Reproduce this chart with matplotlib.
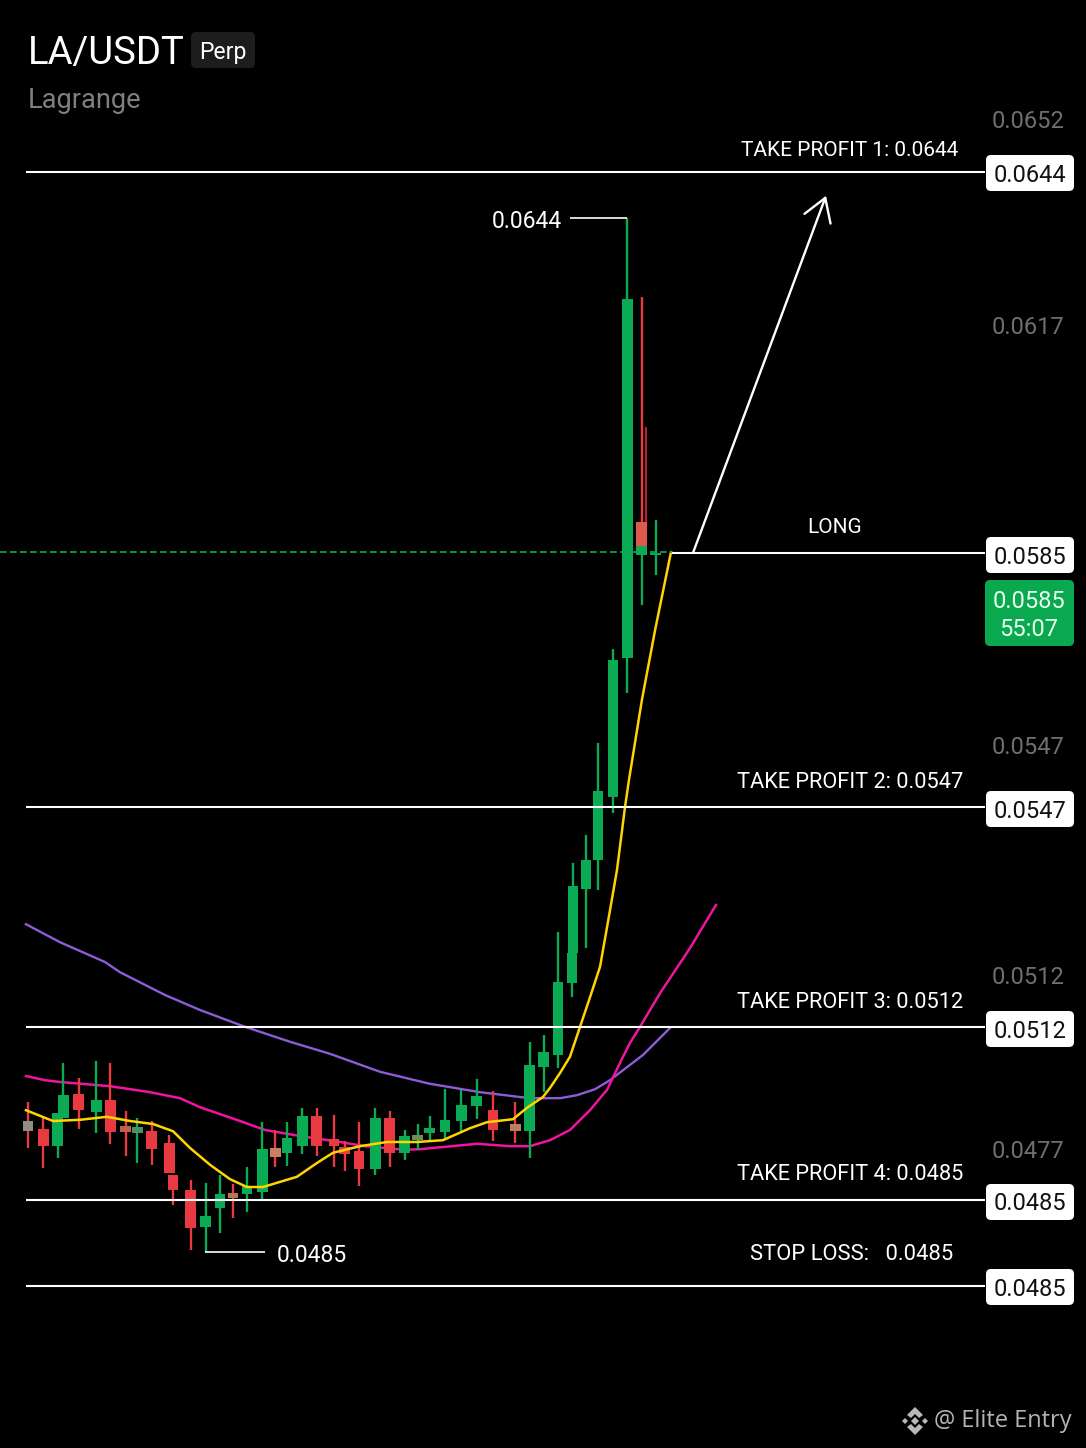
import numpy as np
import matplotlib
matplotlib.use('Agg')
import matplotlib.pyplot as plt
from matplotlib.patches import FancyBboxPatch, Polygon
from matplotlib.transforms import IdentityTransform

W, H = 1086, 1448
plt.rcParams['font.family'] = ['Roboto', 'DejaVu Sans']

# candle values, in 0.00001 of a price unit
bar_x = [0, 1.03, 2.05, 2.40, 3.49, 4.66, 5.62, 6.71, 7.47, 8.49, 9.66, 9.93, 11.16, 12.19, 13.15, 14.04,
         15.0, 16.03, 16.92, 17.74, 18.77, 19.79, 20.96, 21.71, 22.67, 23.77, 24.79, 25.82, 26.71, 27.53,
         28.56, 29.66, 30.75, 31.85, 33.36, 34.38, 35.34, 36.30, 37.26, 37.33, 38.22, 39.04, 40.07, 41.03,
         42.05, 42.05, 43.01]
opens = [4850, 4837, 4808, 4855, 4895, 4865, 4885, 4842, 4830, 4833, 4813, 4760, 4735, 4673, 4705, 4730,
         4728, 4732, 4805, 4797, 4808, 4858, 4820, 4807, 4800, 4770, 4855, 4797, 4818, 4830,
         4832, 4850, 4875, 4868, 4845, 4833, 4940, 4960, 5080, 5130, 5237, 5285, 5390, 5622,
         5848, 5793, 5793]
closes = [4833, 4808, 4863, 4893, 4868, 4885, 4832, 4832, 4840, 4803, 4763, 4735, 4672, 4692, 4728, 4722,
          4742, 4803, 4790, 4822, 4858, 4808, 4808, 4795, 4770, 4855, 4797, 4825, 4827, 4838,
          4852, 4877, 4892, 4835, 4833, 4943, 4965, 5082, 5130, 5242, 5285, 5400, 5618, 6220,
          5808, 5808, 5797]
highs = [4882, 4855, 4863, 4947, 4922, 4950, 4947, 4867, 4855, 4850, 4827, 4760, 4752, 4747, 4760, 4745,
         4773, 4848, 4835, 4848, 4872, 4872, 4860, 4817, 4848, 4872, 4867, 4835, 4845, 4858,
         4903, 4902, 4920, 4900, 4882, 4982, 4993, 5165, 5130, 5280, 5327, 5480, 5637, 6355,
         6223, 5808, 5852]
lows = [4805, 4772, 4788, 4855, 4837, 4830, 4812, 4792, 4780, 4777, 4763, 4710, 4635, 4632, 4663, 4688,
        4698, 4718, 4773, 4775, 4795, 4792, 4773, 4767, 4742, 4760, 4773, 4785, 4802, 4818,
        4822, 4833, 4853, 4817, 4813, 4788, 4898, 4938, 5057, 5130, 5138, 5235, 5363, 5563,
        5808, 5710, 5760]
# candles whose colour came out washed in the screenshot
faded = {0: '#8f8f86', 7: '#c0604f', 8: '#4d8f66', 15: '#b7764e', 18: '#c87f62', 28: '#6f8c5c', 34: '#b97f5f',
         44: '#dd5a4c'}
ghost_x, ghost_high, ghost_low = 42.33, 6007, 5848

purple_x = [-0.14, 2.19, 5.27, 6.30, 9.38, 11.78, 14.86, 17.95, 20.68, 24.11, 27.53, 30.96, 34.38, 36.44, 37.60,
            38.84, 39.86, 42.12, 43.97]
purple_y = [5178, 5148, 5115, 5098, 5060, 5035, 5007, 4982, 4962, 4932, 4912, 4898, 4888, 4888, 4893,
            4903, 4918, 4960, 5005]
pink_x = [-0.14, 1.16, 2.19, 5.62, 8.36, 10.41, 11.78, 14.52, 16.23, 18.63, 21.37, 23.08, 25.82, 26.85, 30.75,
          33.01, 34.38, 35.75, 37.12, 38.49, 39.66, 40.75, 41.23, 41.92, 43.29, 45.34, 47.12]
pink_y = [4925, 4918, 4915, 4908, 4898, 4888, 4873, 4850, 4835, 4825, 4815, 4808, 4802, 4803, 4812,
          4808, 4808, 4818, 4835, 4868, 4902, 4957, 4980, 5007, 5063, 5138, 5210]
yellow_x = [-0.14, 1.71, 3.56, 5.41, 6.99, 8.56, 9.93, 11.10, 12.47, 13.84, 15.0, 16.10, 18.42, 19.79, 20.89,
            22.74, 24.59, 26.64, 28.42, 30.27, 31.44, 33.22, 34.18, 35.27, 35.75, 36.44, 37.12, 37.81, 38.49,
            39.18, 39.66, 40.34, 40.89, 41.16, 42.05, 42.95, 44.04]
yellow_y = [4868, 4850, 4852, 4857, 4850, 4845, 4833, 4805, 4777, 4753, 4740, 4740, 4757, 4780, 4797,
            4808, 4815, 4815, 4818, 4838, 4848, 4853, 4872, 4890, 4905, 4930, 4957, 5007, 5056,
            5107, 5173, 5268, 5373, 5418, 5552, 5668, 5798]

level_y = [6432, 5797, 5373, 5007, 4718, 4575]
level_start = [-0.14, 44.1, -0.14, -0.14, -0.14, -0.14]
level_tags = ['0.0644', '0.0585', '0.0547', '0.0512', '0.0485', '0.0485']
level_titles = ['TAKE PROFIT 1: 0.0644', 'LONG', 'TAKE PROFIT 2: 0.0547', 'TAKE PROFIT 3: 0.0512',
                'TAKE PROFIT 4: 0.0485', 'STOP LOSS:   0.0485']
axis_labels = ['0.0652', '0.0617', '0.0547', '0.0512', '0.0477']
axis_rows = [119, 325, 745, 975, 1149]
tag_rows = [173, 555, 809, 1029, 1202, 1287]
title_rows = [148, 526, 781, 1001, 1173, 1253]
title_cols = [850, 835, 850, 850, 850, 852]
title_sizes = [15, 15, 15.7, 15.7, 15.7, 15.8]

GREEN = '#0bab55'
RED = '#e83a40'

fig = plt.figure(figsize=(W / 100, H / 100), dpi=100, facecolor='black')
ax = fig.add_axes([0, 0, 1, 1], facecolor='black')
ax.set_xlim(-28 / 14.6, (W - 28) / 14.6)
ax.set_ylim(4305e-5, 6718.3e-5)
ax.axis('off')

bar_x = np.array(bar_x)
opens, closes, highs, lows = [np.array(a) * 1e-5 for a in (opens, closes, highs, lows)]
colors = [GREEN if c >= o else RED for o, c in zip(opens, closes)]
body_colors = [faded.get(i, c) for i, c in enumerate(colors)]

ax.plot(purple_x, np.array(purple_y) * 1e-5, color='#8f5bd6', lw=1.7, zorder=2)
ax.plot(pink_x, np.array(pink_y) * 1e-5, color='#f014a0', lw=1.8, zorder=2)

ax.vlines(bar_x, lows, highs, colors=colors, lw=1.7, zorder=3)
ax.vlines(ghost_x, ghost_low * 1e-5, ghost_high * 1e-5, colors='#b5202c', lw=1.5, zorder=3)
ax.bar(bar_x, closes - opens, bottom=opens, width=0.75, color=body_colors, zorder=3)

ax.plot(yellow_x, np.array(yellow_y) * 1e-5, color='#ffd400', lw=1.8, zorder=4)

# dashed current price line
ax.hlines(5798e-5, ax.get_xlim()[0], 44.1, colors='#0bab55', lw=1.2, linestyles=(0, (4, 2)), zorder=4)

ax.hlines(np.array(level_y) * 1e-5, level_start, 65.55, colors='white', lw=1.5, zorder=5)
ax.hlines(6355e-5, 37.12, 41.03, colors='white', lw=1.2, zorder=5)
ax.hlines(4632e-5, 12.12, 16.23, colors='white', lw=1.2, zorder=5)

ax.annotate('', xy=(54.66, 6392e-5), xytext=(45.55, 5797e-5),
            arrowprops=dict(arrowstyle='->,head_length=0.8,head_width=0.5', color='white', lw=1.7,
                            shrinkA=0, shrinkB=0, mutation_scale=20), zorder=6)


def label(col, row, s, size, color='white', ha='center', **kw):
    # va center sits a little high for these fonts
    fig.text(col / W, 1 - (row + 2) / H, s, fontsize=size, color=color, ha=ha, va='center', zorder=10, **kw)


def box(x0, y0, x1, y1, color):
    fig.add_artist(FancyBboxPatch((x0, H - y1), x1 - x0, y1 - y0, boxstyle='round,pad=0,rounding_size=5',
                                  fc=color, ec='none', transform=IdentityTransform(), zorder=9))


label(28, 51, 'LA/USDT', 27.5, ha='left')
box(191, 32, 255, 68, '#1d1d1d')
label(223, 51, 'Perp', 16.5)
label(28, 98, 'Lagrange', 19.6, color='#7f7f7f', ha='left')

for s, r in zip(axis_labels, axis_rows):
    label(1028, r, s, 17, color='#6f6f6f')

for s, r in zip(level_tags, tag_rows):
    box(986, r - 18, 1074, r + 18, 'white')
    label(1030, r, s, 17, color='#111111')

box(985, 580, 1074, 646, '#0aa84f')
label(1029, 599, '0.0585', 17, color='#e6fff0')
label(1029, 628, '55:07', 17, color='#e6fff0')

for s, r, c, sz in zip(level_titles, title_rows, title_cols, title_sizes):
    label(c, r, s, sz)

label(527, 219, '0.0644', 16.5)
label(312, 1253, '0.0485', 16.5)

# watermark logo
logo_col, logo_row = 915, 1421
pieces = [[(0, -14), (8, -6), (4, -3), (0, -7), (-4, -3), (-8, -6)],
          [(0, 14), (8, 6), (4, 3), (0, 7), (-4, 3), (-8, 6)],
          [(0, -4), (4, 0), (0, 4), (-4, 0)],
          [(-10, -3), (-7, 0), (-10, 3), (-13, 0)],
          [(10, -3), (13, 0), (10, 3), (7, 0)]]
for p in pieces:
    pts = [(logo_col + x, H - (logo_row + y)) for x, y in p]
    fig.add_artist(Polygon(pts, closed=True, fc='#b9b9b9', ec='none', transform=IdentityTransform(), zorder=10))
label(1072, 1419, '@ Elite Entry', 17, color='#b4b4b4', ha='right', family=['Open Sans', 'DejaVu Sans'])

fig.savefig('out.png', dpi=100, facecolor='black')
